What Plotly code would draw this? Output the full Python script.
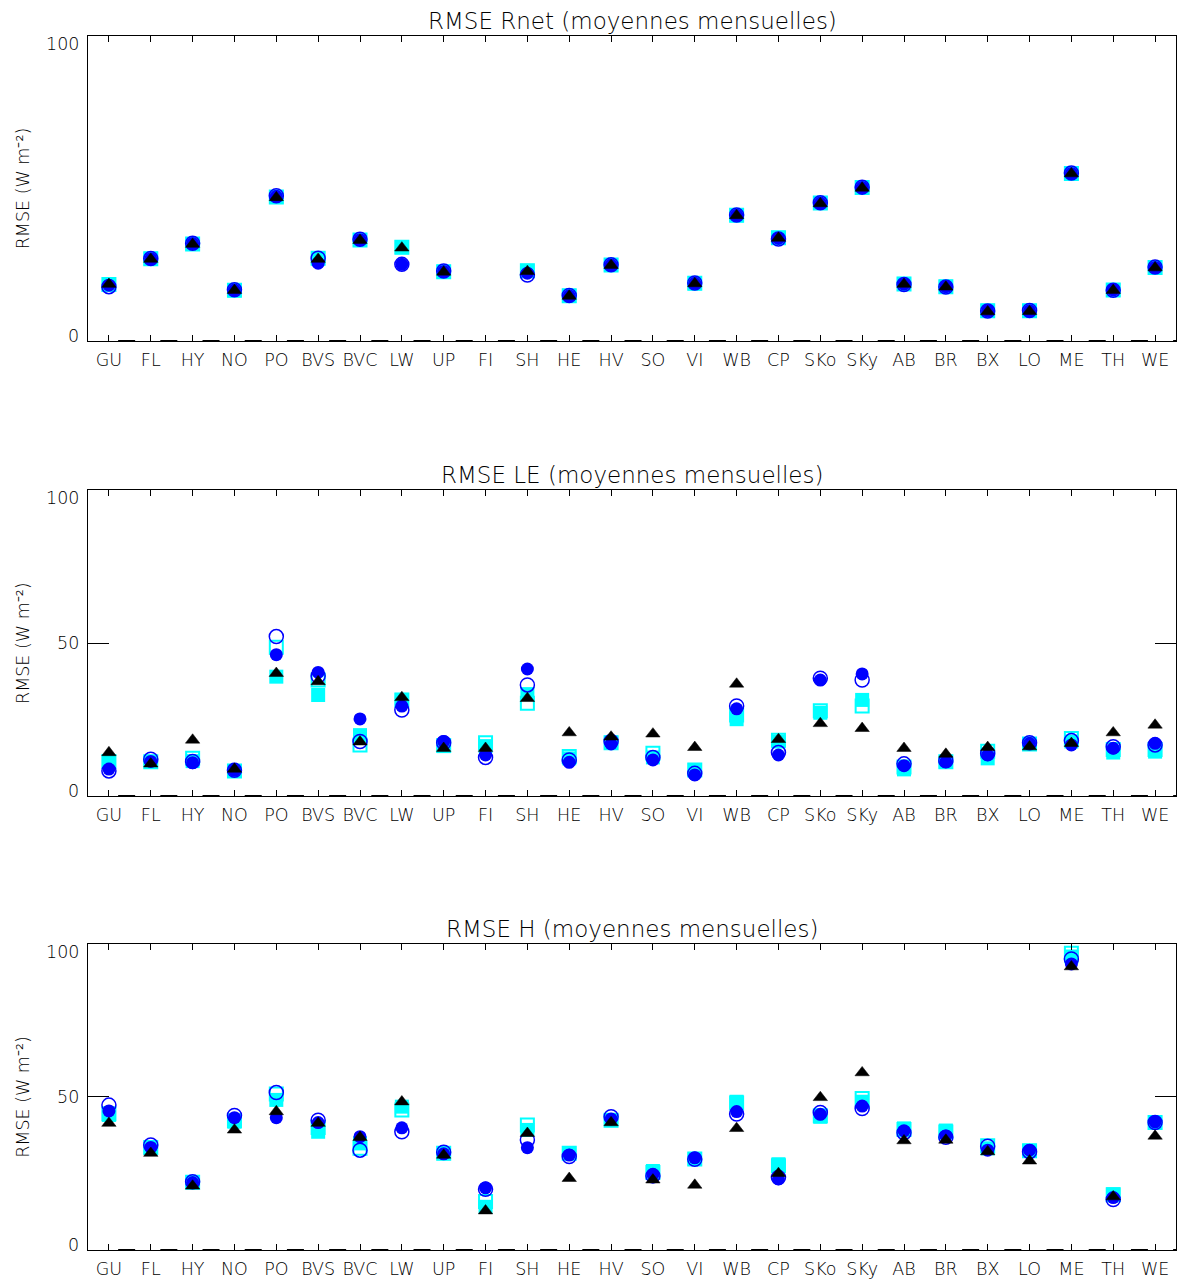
import plotly.graph_objects as go

# Sites along the x axis
sites = ["GU", "FL", "HY", "NO", "PO", "BVS", "BVC", "LW", "UP", "FI", "SH", "HE", "HV",
         "SO", "VI", "WB", "CP", "SKo", "SKy", "AB", "BR", "BX", "LO", "ME", "TH", "WE"]

# RMSE of monthly means, Rnet (W m-2); FI and SO have no Rnet data
rnet_sq_fill = [18.5, 26.9, 31.8, 16.6, 47.2, 27.1, 33.1, 30.7, 22.7, None, 23.0, 14.8, 24.9,
                None, 18.9, 41.2, 33.8, 45.2, 50.3, 18.7, 17.8, 9.9, 9.9, 54.9, 16.7, 24.1]
rnet_sq_open = [18.5, 26.9, 31.8, 16.6, 47.2, 27.1, 33.1, 30.7, 22.7, None, 23.0, 14.8, 24.9,
                None, 18.9, 41.2, 33.8, 45.2, 50.3, 18.7, 17.8, 9.9, 9.9, 54.9, 16.7, 24.1]
rnet_circ_open = [17.8, 27.0, 32.0, 16.8, 47.6, 27.1, 33.3, 25.1, 22.9, None, 21.6, 14.9, 25.0,
                  None, 19.0, 41.3, 33.4, 45.3, 50.4, 18.5, 17.7, 9.8, 10.0, 55.0, 16.6, 24.2]
rnet_circ_fill = [18.3, 26.9, 31.9, 16.7, 47.4, 25.5, 33.2, 25.1, 22.8, None, 22.2, 14.8, 24.9,
                  None, 18.9, 41.2, 33.6, 45.2, 50.3, 18.6, 17.8, 9.9, 9.9, 54.9, 16.7, 24.1]
rnet_tri = [18.6, 26.8, 31.7, 16.6, 47.0, 26.8, 33.0, 30.5, 22.6, None, 22.8, 14.7, 24.8,
            None, 18.8, 41.1, 33.7, 45.0, 50.1, 18.6, 17.7, 9.6, 9.7, 54.8, 16.6, 24.0]

# RMSE of monthly means, LE (W m-2)
le_sq_fill = [11.3, 11.2, 11.4, 8.2, 39.0, 33.0, 19.9, 31.4, 16.3, 16.3, 33.3, 12.3, 17.4,
              12.6, 8.5, 25.1, 17.8, 27.2, 31.4, 8.7, 11.2, 12.3, 17.0, 17.8, 14.2, 14.5]
le_sq_open = [11.3, 11.2, 12.3, 8.2, 48.6, 37.9, 16.7, 31.4, 16.5, 17.4, 30.3, 12.9, 17.4,
              14.0, 8.5, 26.5, 18.2, 27.9, 29.4, 9.5, 11.2, 14.6, 17.0, 18.8, 15.2, 15.2]
le_circ_open = [8.2, 12.0, 11.3, 8.4, 52.1, 39.2, 17.8, 28.1, 17.4, 12.6, 36.3, 11.8, 17.8,
                12.6, 7.4, 29.4, 14.2, 38.5, 37.9, 10.5, 11.5, 13.9, 17.4, 18.1, 16.1, 16.7]
le_circ_fill = [8.8, 11.3, 10.9, 8.4, 46.2, 40.4, 25.2, 29.4, 17.8, 13.4, 41.5, 11.0, 17.0,
                11.8, 6.9, 28.5, 13.4, 37.9, 39.9, 9.9, 11.2, 13.4, 17.2, 16.7, 15.6, 17.2]
le_tri = [14.2, 10.5, 18.3, 8.8, 40.1, 37.4, 17.7, 32.2, 15.6, 15.6, 31.9, 20.7, 19.3,
          20.3, 15.9, 36.6, 18.5, 23.7, 22.1, 15.6, 13.7, 15.9, 16.1, 17.2, 20.7, 23.2]

# RMSE of monthly means, H (W m-2)
h_sq_fill = [44.1, 33.5, 22.1, 41.9, 49.0, 38.6, 34.8, 46.8, 31.6, 14.1, 39.2, 31.6, 42.4,
             25.8, 29.7, 48.4, 28.0, 43.5, 48.4, 39.7, 39.0, 33.2, 32.4, 95.8, 18.2, 41.6]
h_sq_open = [44.5, 33.5, 22.1, 42.2, 50.9, 40.0, 33.2, 45.7, 31.6, 15.8, 40.8, 31.6, 42.4,
             25.3, 29.7, 48.0, 27.5, 43.8, 49.5, 39.3, 38.5, 34.0, 32.4, 96.9, 18.0, 41.6]
h_circ_open = [47.3, 34.3, 22.3, 43.9, 51.4, 42.4, 32.6, 38.6, 31.9, 19.8, 35.9, 30.5, 43.5,
               24.2, 29.6, 44.4, 23.7, 44.9, 46.2, 38.3, 36.8, 33.9, 32.1, 95.0, 16.5, 41.6]
h_circ_fill = [45.4, 33.5, 22.0, 43.2, 43.2, 41.6, 37.0, 39.9, 31.4, 20.3, 33.4, 31.0, 42.8,
               24.7, 30.1, 45.2, 23.2, 44.3, 47.0, 38.9, 37.2, 32.6, 32.6, 93.4, 17.1, 41.8]
h_tri = [41.4, 31.6, 20.9, 39.2, 45.2, 41.4, 36.8, 48.4, 31.0, 12.8, 38.1, 23.4, 41.6,
         22.9, 21.2, 39.7, 25.0, 49.8, 57.9, 35.7, 35.9, 32.1, 29.1, 92.5, 17.4, 37.2]

panel_titles = ["RMSE Rnet (moyennes mensuelles)",
                "RMSE LE (moyennes mensuelles)",
                "RMSE H (moyennes mensuelles)"]
y_title = "RMSE (W m\u207b\u00b2)"
y_ticks_per_panel = [[0, 100], [0, 50, 100], [0, 50, 100]]

panels = [
    (rnet_sq_fill, rnet_sq_open, rnet_circ_open, rnet_circ_fill, rnet_tri),
    (le_sq_fill, le_sq_open, le_circ_open, le_circ_fill, le_tri),
    (h_sq_fill, h_sq_open, h_circ_open, h_circ_fill, h_tri),
]

W, H = 1178, 1279
ML, MR = 88, 2
# vertical pixel extents of the three frames (top, bottom)
frames_px = [(35.7, 341.0), (490.0, 796.0), (943.7, 1250.0)]

FONT = "DejaVu Sans"
WEIGHT = 200
CYAN = "#00FFFF"
BLUE = "#0000FF"

marker_styles = [
    dict(symbol="square", size=14, color=CYAN, line=dict(width=0)),
    dict(symbol="square-open", size=13, color=CYAN, line=dict(width=2, color=CYAN)),
    dict(symbol="circle-open", size=14, color=BLUE, line=dict(width=1.5, color=BLUE)),
    dict(symbol="circle", size=13, color=BLUE, line=dict(width=0)),
    dict(symbol="triangle-up", size=12.5, color="black", line=dict(width=0.5, color="black")),
]


def font(size):
    return dict(family=FONT, size=size, color="black", weight=WEIGHT)


fig = go.Figure()
annotations = []
shapes = []

for i, series in enumerate(panels):
    n = "" if i == 0 else str(i + 1)
    xa, ya = "x" + n, "y" + n
    for vals, mk in zip(series, marker_styles):
        fig.add_trace(go.Scatter(x=sites, y=vals, mode="markers", marker=mk,
                                 xaxis=xa, yaxis=ya, hoverinfo="x+y"))

    top_px, bot_px = frames_px[i]
    dom = [(H - bot_px) / H, (H - top_px) / H]
    axis_common = dict(showline=True, linecolor="black", linewidth=1, mirror="ticks",
                       ticks="inside", tickcolor="black", tickwidth=1,
                       showgrid=False, zeroline=False)
    fig.update_layout(**{
        "xaxis" + n: dict(axis_common, type="category", range=[-0.5, 25.5],
                          tickvals=sites, ticktext=sites, ticklen=6,
                          ticklabelstandoff=3,
                          anchor=ya, domain=[0, 1], tickfont=font(17.5)),
        "yaxis" + n: dict(axis_common, range=[0, 100], tickvals=y_ticks_per_panel[i],
                          ticklen=21, showticklabels=False, anchor=xa, domain=dom),
    })

    # dashed stroke along the bottom axis
    shapes.append(dict(type="line", xref=xa, yref=ya, x0=0.22, x1=25.5, y0=0, y1=0,
                       line=dict(color="black", width=2, dash="17px,25.2px")))

    # panel title
    annotations.append(dict(text=panel_titles[i], xref="paper", yref="paper",
                            x=0.5, y=dom[1], xanchor="center", yanchor="bottom",
                            yshift=0, showarrow=False, font=font(23)))
    # y axis title
    annotations.append(dict(text=y_title, xref="paper", yref="paper",
                            x=-65 / (W - ML - MR), y=(dom[0] + dom[1]) / 2,
                            xanchor="center", yanchor="middle", textangle=-90,
                            showarrow=False, font=font(17.5)))
    # y tick labels
    for v in y_ticks_per_panel[i]:
        shift = {0: 5.5, 50: 0, 100: -8}[v]
        annotations.append(dict(text=str(v), xref="paper", yref=ya, x=0, y=v,
                                xanchor="right", yanchor="middle", xshift=-7,
                                yshift=shift, showarrow=False, font=font(17.5)))

fig.update_layout(width=W, height=H, margin=dict(l=ML, r=MR, t=0, b=0),
                  plot_bgcolor="white", paper_bgcolor="white", showlegend=False,
                  annotations=annotations, shapes=shapes)

fig.write_html("out.html")
